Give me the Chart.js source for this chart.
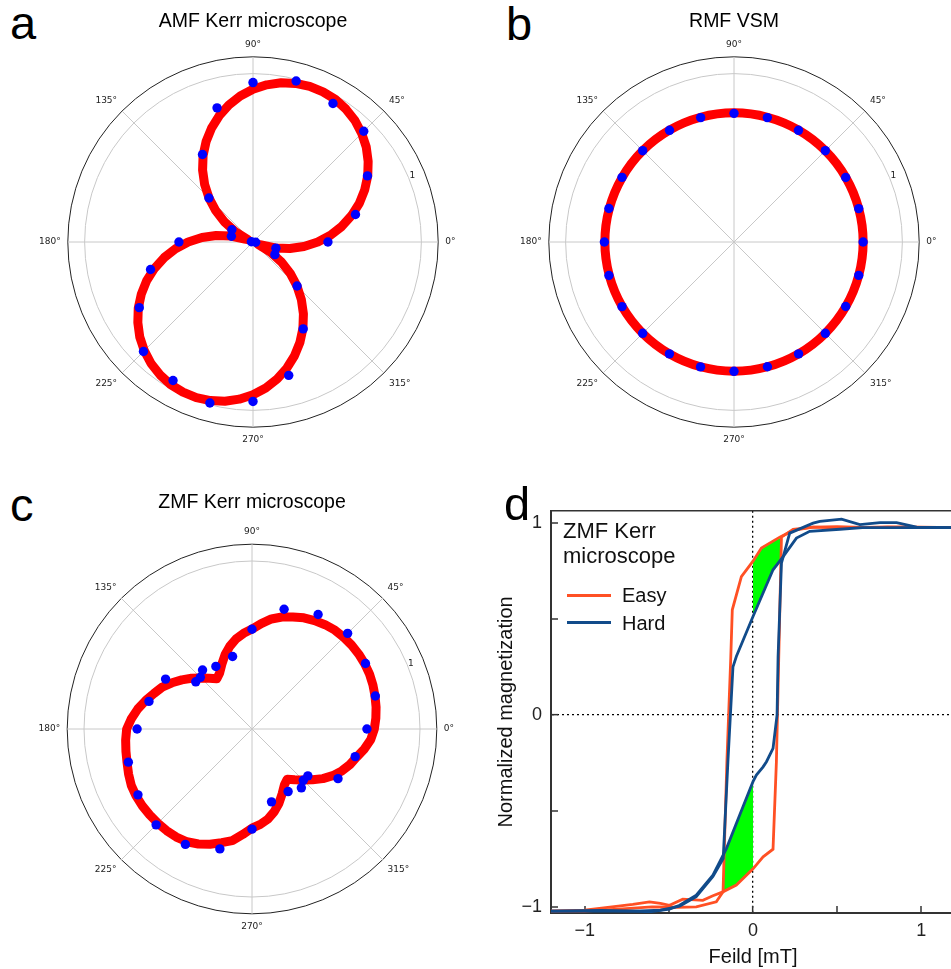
<!DOCTYPE html>
<html>
<head>
<meta charset="utf-8">
<title>Anisotropy maps and hysteresis loops</title>
<script src="https://cdn.jsdelivr.net/npm/chart.js@4.4.1/dist/chart.umd.min.js"></script>
<style>
  html, body { margin: 0; padding: 0; background: #fff; }
  body { position: relative; width: 951px; height: 969px; overflow: hidden; font-family: 'Liberation Sans', Arial, sans-serif; }
  canvas { position: absolute; }
  .letter { position: absolute; font-size: 47px; line-height: 47px; color: #000; }
  .lg { position: absolute; color: #111; white-space: nowrap; }
  .lg-title { font-size: 22px; line-height: 25.5px; }
  .lg-item { font-size: 20px; line-height: 24px; }
  .swatch { position: absolute; width: 44px; height: 3px; }
</style>
</head>
<body>
<div class="letter" style="left:10px;top:-1px">a</div>
<div class="letter" style="left:506px;top:0px">b</div>
<div class="letter" style="left:10px;top:481px">c</div>

<canvas id="chartA" width="470" height="446" style="left:18px;top:0px"></canvas>
<canvas id="chartB" width="470" height="446" style="left:499px;top:0px"></canvas>
<canvas id="chartC" width="470" height="452" style="left:17px;top:480px"></canvas>
<canvas id="chartD" width="475" height="485" style="left:490px;top:484px"></canvas>

<div class="letter" style="left:504px;top:480px">d</div>
<div class="lg lg-title" style="left:563px;top:517.6px">ZMF Kerr<br>microscope</div>
<div class="swatch" style="left:567px;top:593.5px;background:#ff5024"></div>
<div class="lg lg-item" style="left:622px;top:583px">Easy</div>
<div class="swatch" style="left:567px;top:621.2px;background:#114b8a"></div>
<div class="lg lg-item" style="left:622px;top:611px">Hard</div>

<script>
// ---- polar panels: angles in degrees, counter-clockwise from 0° ----
const rTicks = [0, 1, 1.1];

// a: AMF Kerr microscope (fit every 5°, measured points)
const aCurve = [
  0.385, 0.462, 0.536, 0.606, 0.672, 0.732, 0.787, 0.835, 0.878, 0.913, 0.942, 0.963,
  0.978, 0.984, 0.984, 0.975, 0.960, 0.937, 0.907, 0.870, 0.826, 0.776, 0.720, 0.659,
  0.593, 0.522, 0.447, 0.369, 0.288, 0.205, 0.120, 0.034, 0.052, 0.137, 0.222, 0.304,
  0.385, 0.462, 0.536, 0.606, 0.672, 0.732, 0.787, 0.835, 0.878, 0.913, 0.942, 0.963,
  0.978, 0.984, 0.984, 0.975, 0.960, 0.937, 0.907, 0.870, 0.826, 0.776, 0.720, 0.659,
  0.593, 0.522, 0.447, 0.369, 0.288, 0.205, 0.120, 0.034, 0.052, 0.137, 0.222, 0.304
];
const aPointAngles = [0, 15, 30, 45, 60, 75, 90, 105, 120, 135, 150, 165, 170,
  180, 195, 210, 225, 240, 255, 270, 285, 300, 315, 330, 345, 355];
const aPointValues = [0.445, 0.63, 0.785, 0.93, 0.95, 0.99, 0.947, 0.825, 0.60, 0.37, 0.145, 0.133, 0.01,
  0.44, 0.63, 0.78, 0.92, 0.95, 0.99, 0.947, 0.82, 0.596, 0.37, 0.15, 0.141, 0.016];

// b: RMF VSM (fit every 15°, measured points)
const bCurve = [
  0.767, 0.767, 0.767, 0.767, 0.767, 0.767, 0.767, 0.767, 0.767, 0.767, 0.767, 0.767,
  0.767, 0.767, 0.767, 0.767, 0.767, 0.767, 0.767, 0.767, 0.767, 0.767, 0.767, 0.767
];
const bPointAngles = [0, 15, 30, 45, 60, 75, 90, 105, 120, 135, 150, 165,
  180, 195, 210, 225, 240, 255, 270, 285, 300, 315, 330, 345];
const bPointValues = [0.767, 0.767, 0.766, 0.767, 0.766, 0.765, 0.764, 0.765, 0.766, 0.767, 0.768, 0.769,
  0.770, 0.769, 0.768, 0.767, 0.767, 0.768, 0.768, 0.767, 0.767, 0.767, 0.766, 0.767];

// c: ZMF Kerr microscope (fit every 5°, measured points)
const cCurve = [
  0.728, 0.740, 0.750, 0.758, 0.766, 0.772, 0.775, 0.776, 0.775, 0.772, 0.768, 0.758,
  0.745, 0.730, 0.710, 0.690, 0.665, 0.630, 0.595, 0.572, 0.545, 0.510, 0.470, 0.425,
  0.385, 0.365, 0.395, 0.430, 0.470, 0.510, 0.550, 0.590, 0.620, 0.655, 0.690, 0.720,
  0.746, 0.755, 0.762, 0.770, 0.782, 0.793, 0.797, 0.797, 0.795, 0.793, 0.790, 0.785,
  0.775, 0.755, 0.730, 0.700, 0.675, 0.630, 0.590, 0.570, 0.545, 0.510, 0.470, 0.425,
  0.385, 0.365, 0.395, 0.430, 0.470, 0.515, 0.555, 0.590, 0.620, 0.645, 0.680, 0.710
];
const cPointAngles = [0, 15, 30, 45, 60, 75, 90, 105, 120, 130, 135, 140, 150, 165,
  180, 195, 210, 225, 240, 255, 270, 285, 300, 310, 315, 320, 330, 345];
const cPointValues = [0.684, 0.76, 0.78, 0.805, 0.787, 0.738, 0.594, 0.447, 0.43, 0.458, 0.435, 0.437, 0.594, 0.635,
  0.684, 0.762, 0.784, 0.807, 0.793, 0.739, 0.596, 0.449, 0.43, 0.457, 0.432, 0.434, 0.591, 0.636];

// ---- d: hysteresis loops, field [mT] vs normalized magnetization ----
const easyDownX = [1.2, 1.0, 0.8, 0.6, 0.45, 0.357, 0.238, 0.159, 0.05, 0, -0.069, -0.123, -0.132, -0.155, -0.178, -0.218, -0.337, -0.45, -0.6, -0.8, -1.0, -1.2];
const easyDownY = [0.975, 0.975, 0.978, 0.975, 0.975, 0.977, 0.96, 0.925, 0.868, 0.80, 0.72, 0.547, 0.30, -0.24, -0.92, -0.972, -0.998, -1.0, -0.998, -1.01, -1.02, -1.02];
const easyUpX = [-1.2, -1.0, -0.85, -0.714, -0.615, -0.55, -0.496, -0.417, -0.298, -0.238, -0.179, -0.099, 0, 0.06, 0.119, 0.139, 0.169, 0.238, 0.357, 0.5, 0.7, 0.9, 1.2];
const easyUpY = [-1.02, -1.015, -1.0, -0.985, -0.972, -0.98, -0.99, -0.958, -0.964, -0.94, -0.92, -0.885, -0.80, -0.738, -0.698, -0.243, 0.925, 0.965, 0.977, 0.98, 0.975, 0.978, 0.975];
const hardDownX = [1.2, 1.0, 0.8, 0.65, 0.516, 0.337, 0.258, 0.179, 0.119, 0, -0.099, -0.119, -0.149, -0.177, -0.238, -0.337, -0.436, -0.55, -0.7, -0.9, -1.2];
const hardDownY = [0.975, 0.975, 0.975, 0.975, 0.966, 0.955, 0.92, 0.824, 0.755, 0.512, 0.304, 0.25, -0.243, -0.747, -0.84, -0.945, -0.995, -1.015, -1.02, -1.02, -1.02];
const hardUpX = [-1.2, -0.9, -0.7, -0.615, -0.496, -0.436, -0.337, -0.238, -0.158, -0.079, 0, 0.02, 0.06, 0.08, 0.119, 0.143, 0.149, 0.169, 0.218, 0.357, 0.397, 0.526, 0.635, 0.754, 0.853, 0.972, 1.2];
const hardUpY = [-1.02, -1.016, -1.02, -1.024, -1.01, -0.99, -0.9375, -0.833, -0.695, -0.52, -0.347, -0.3125, -0.27, -0.243, -0.174, 0, 0.304, 0.79, 0.946, 0.998, 1.007, 1.019, 0.99, 1.0, 1.0, 0.977, 0.975];
// shaded areas between the easy and hard branches
const greenTopX = [0, 0.05, 0.169, 0.169, 0.119, 0];
const greenTopY = [0.80, 0.868, 0.925, 0.815, 0.755, 0.512];
const greenBotX = [-0.179, -0.177, -0.158, -0.079, 0, 0, -0.099];
const greenBotY = [-0.92, -0.747, -0.695, -0.52, -0.35, -0.80, -0.885];

const xTicks = [-1, -0.5, 0, 0.5, 1];
const xTickLabels = ['\u22121', '', '0', '', '1'];
const yTicks = [-1, -0.5, 0, 0.5, 1];
const yTickLabels = ['\u22121', '', '0', '', '1'];

const easyColor = '#ff5024';
const hardColor = '#114b8a';

Chart.defaults.font.family = "'Liberation Sans', Arial, sans-serif";
Chart.defaults.color = '#222';

// draws the radial "1" label at 22.5°, like matplotlib does
const radialLabel = {
  id: 'radialLabel',
  afterDraw(chart) {
    const s = chart.scales.r;
    const d = s.getDistanceFromCenterForValue(1) + 4;
    const a = 22.5 * Math.PI / 180;
    const ctx = chart.ctx;
    ctx.save();
    ctx.font = '9px "DejaVu Sans"';
    ctx.fillStyle = '#222';
    ctx.textAlign = 'center';
    ctx.textBaseline = 'middle';
    ctx.fillText('1', s.xCenter + d * Math.cos(a), s.yCenter - d * Math.sin(a));
    ctx.restore();
  }
};

function polarChart(id, title, titlePad, step, curve, ptAngles, ptValues, tension) {
  const n = 360 / step;
  const labels = [], red = [], blue = [];
  // chart.js goes clockwise, so walk the angles downwards
  for (let i = 0; i < n; i++) {
    const ang = (360 - i * step) % 360;
    labels.push(ang % 45 === 0 ? ang + '\u00b0' : '');
    red.push(curve[ang / step]);
    const k = ptAngles.indexOf(ang);
    blue.push(k >= 0 ? ptValues[k] : null);
  }
  const spoke = 45 / step;
  return new Chart(document.getElementById(id), {
    type: 'radar',
    data: {
      labels: labels,
      datasets: [{
        label: 'measured',
        data: blue,
        showLine: false,
        fill: false,
        pointRadius: 4.7,
        pointBackgroundColor: '#0000ff',
        pointBorderWidth: 0
      }, {
        label: 'fit',
        data: red,
        fill: false,
        borderColor: '#ff0000',
        borderWidth: 9,
        borderJoinStyle: 'round',
        tension: tension,
        pointRadius: 0
      }]
    },
    options: {
      responsive: false,
      animation: false,
      plugins: {
        legend: { display: false },
        tooltip: { enabled: false },
        title: {
          display: true,
          text: title,
          color: '#000',
          font: { size: 19.5, weight: 'normal' },
          padding: titlePad
        }
      },
      scales: {
        r: {
          min: 0,
          max: 1.1,
          startAngle: 90,
          afterBuildTicks: s => { s.ticks = rTicks.map(v => ({ value: v })); },
          ticks: { display: false },
          grid: {
            circular: true,
            color: c => (c.tick && c.tick.value >= 1.1 ? '#222' : '#c8c8c8'),
            lineWidth: 1
          },
          angleLines: {
            color: '#c8c8c8',
            lineWidth: c => (c.index % spoke === 0 ? 1 : 0)
          },
          pointLabels: {
            font: { family: 'DejaVu Sans', size: 9 },
            color: '#222',
            padding: 7
          }
        }
      }
    },
    plugins: [radialLabel]
  });
}

polarChart('chartA', 'AMF Kerr microscope', { top: 10.3, bottom: 6.3 }, 5, aCurve, aPointAngles, aPointValues, 0);
polarChart('chartB', 'RMF VSM', { top: 10.3, bottom: 6.3 }, 15, bCurve, bPointAngles, bPointValues, 0.34);
polarChart('chartC', 'ZMF Kerr microscope', { top: 10.6, bottom: 12.4 }, 5, cCurve, cPointAngles, cPointValues, 0);

function pts(xs, ys) {
  return xs.map((x, i) => ({ x: x, y: ys[i] }));
}
function loopLine(xs, ys, color, name) {
  return { label: name, data: pts(xs, ys), borderColor: color, borderWidth: 2.8, pointRadius: 0, fill: false, tension: 0 };
}
function shade(xs, ys) {
  return { label: 'shade', data: pts(xs, ys), borderWidth: 0, pointRadius: 0, fill: 'shape', backgroundColor: '#00ff00' };
}

new Chart(document.getElementById('chartD'), {
  type: 'line',
  data: {
    datasets: [
      loopLine(hardDownX, hardDownY, hardColor, 'Hard'),
      loopLine(hardUpX, hardUpY, hardColor, 'Hard'),
      loopLine(easyDownX, easyDownY, easyColor, 'Easy'),
      loopLine(easyUpX, easyUpY, easyColor, 'Easy'),
      shade(greenTopX, greenTopY),
      shade(greenBotX, greenBotY)
    ]
  },
  options: {
    responsive: false,
    animation: false,
    layout: { padding: { top: 0, right: 10, left: 0, bottom: 0 } },
    plugins: { legend: { display: false }, tooltip: { enabled: false } },
    scales: {
      x: {
        type: 'linear',
        position: 'bottom',
        min: -1.2,
        max: 1.2,
        afterBuildTicks: s => { s.ticks = xTicks.map(v => ({ value: v })); },
        afterFit: s => { s.height = 56; },
        ticks: {
          callback: v => xTickLabels[xTicks.indexOf(v)],
          font: { size: 18 },
          color: '#222',
          padding: 14,
          maxRotation: 0,
          autoSkip: false
        },
        grid: {
          color: '#000',
          lineWidth: c => (c.tick && c.tick.value === 0 ? 1.3 : 0),
          tickLength: -7,
          tickColor: '#333',
          tickWidth: 1.5
        },
        border: { display: true, color: '#333', width: 2, dash: [2, 3] },
        title: { display: true, text: 'Feild [mT]', font: { size: 20 }, color: '#111', padding: { top: 0, bottom: 0 } }
      },
      x2: {
        type: 'linear',
        axis: 'x',
        position: 'top',
        min: -1.2,
        max: 1.2,
        afterFit: s => { s.height = 0; },
        ticks: { display: false },
        grid: { display: false, drawTicks: false },
        border: { display: true, color: '#333', width: 1.5 }
      },
      y: {
        type: 'linear',
        position: 'left',
        min: -1.03,
        max: 1.062,
        afterBuildTicks: s => { s.ticks = yTicks.map(v => ({ value: v })); },
        afterFit: s => { s.width = 61; },
        ticks: {
          callback: v => yTickLabels[yTicks.indexOf(v)],
          font: { size: 18 },
          color: '#222',
          padding: 16,
          autoSkip: false
        },
        grid: {
          color: '#000',
          lineWidth: c => (c.tick && c.tick.value === 0 ? 1.3 : 0),
          tickLength: -7,
          tickColor: '#333',
          tickWidth: 1.5
        },
        border: { display: true, color: '#333', width: 2, dash: [2, 3] },
        title: { display: true, text: 'Normalized magnetization', font: { size: 20 }, color: '#111', padding: { top: 4, bottom: 0 } }
      }
    }
  }
});
</script>
</body>
</html>
